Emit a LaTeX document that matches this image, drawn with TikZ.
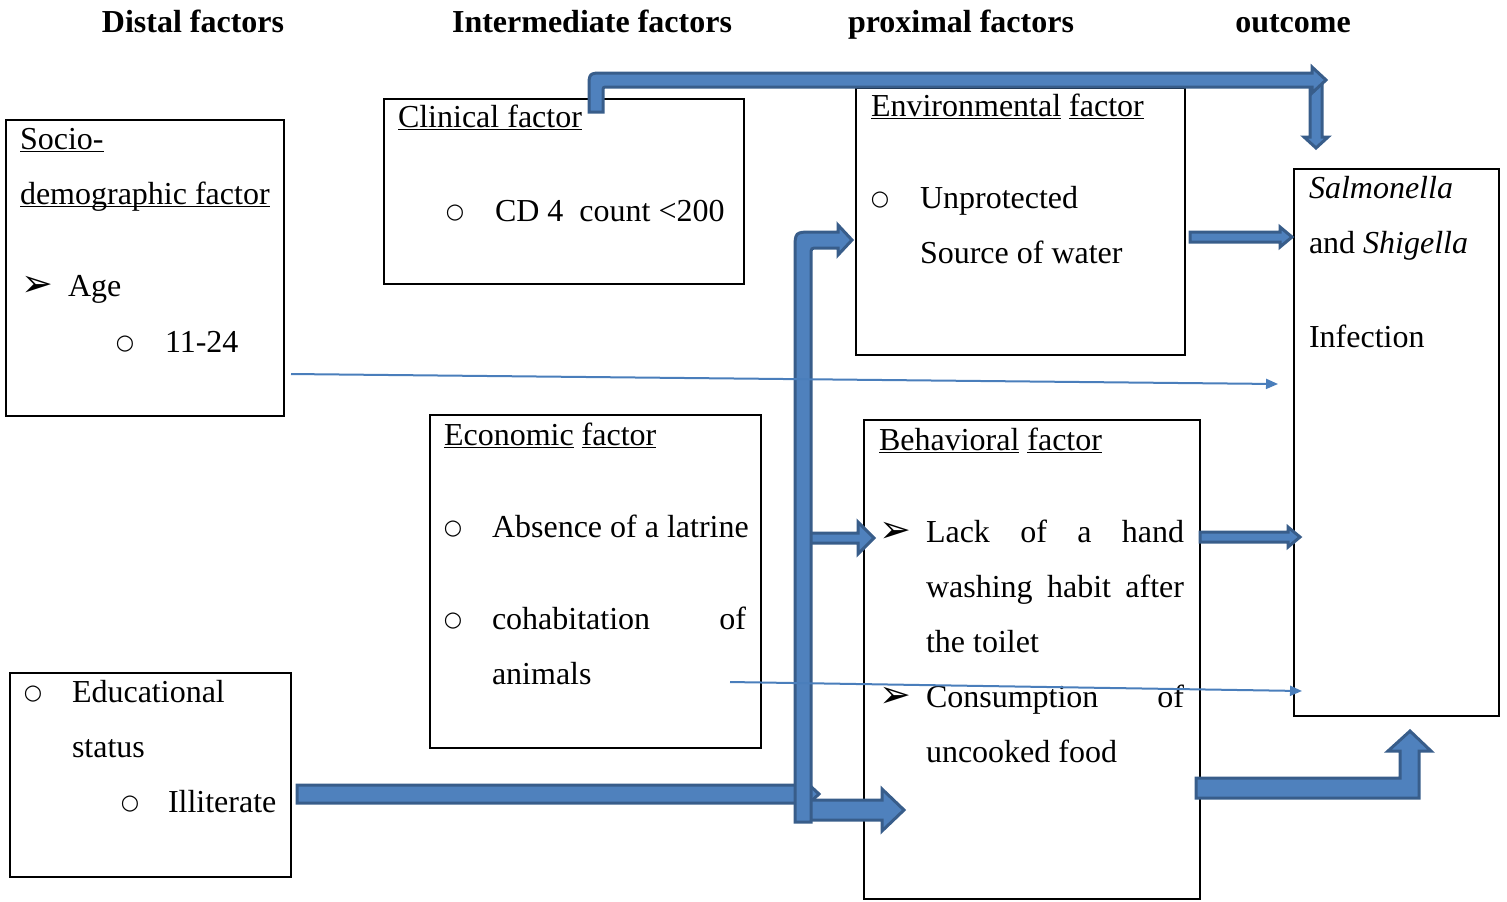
\documentclass[tikz,border=0pt]{standalone}
\usepackage{fontspec}
\setmainfont{Liberation Serif}
\newfontfamily\arrowheadfont{DejaVu Sans}
\usetikzlibrary{arrows.meta}

\definecolor{arrowfill}{HTML}{4F81BD}
\definecolor{arrowedge}{HTML}{385D8A}
\definecolor{linkblue}{HTML}{4A7EBB}

\newcommand{\ulbox}[1]{\underline{\smash{#1}}}
\newcommand{\ringbullet}{{\arrowheadfont\fontsize{10.5}{11}\selectfont ○}}
\newcommand{\tipbullet}{{\arrowheadfont\fontsize{19}{19}\selectfont ➢}}

\begin{document}
\begin{tikzpicture}[
  x=0.5pt, y=-0.5pt,
  every node/.style={font=\fontsize{16}{19}\selectfont, inner sep=0pt, outer sep=0pt},
  factorbox/.style={draw=black, line width=1pt, anchor=north west},
  txt/.style={anchor=base west},
  bullet/.style={anchor=base, yshift=1.2pt},
  header/.style={anchor=base, font=\fontsize{16}{19}\selectfont\bfseries},
  blockarrow/.style={fill=arrowfill, draw=arrowedge, line width=1.5pt, line join=miter},
  link/.style={-{Triangle[length=6pt, width=5pt]}, linkblue, line width=1pt}
]
\useasboundingbox (0,0) rectangle (1507,901);

% Column headings
\node[header] (h-distal) at (193,32) {Distal factors};
\node[header] (h-inter) at (592,32) {Intermediate factors};
\node[header] (h-prox) at (961,32) {proximal factors};
\node[header] (h-out) at (1293,32) {outcome};

% Factor boxes
\node[factorbox, minimum width=139pt, minimum height=148pt] (socio) at (6,120) {};
\node[factorbox, minimum width=180pt, minimum height=92.5pt] (clinical) at (384,99) {};
\node[factorbox, minimum width=164.5pt, minimum height=133.5pt] (environ) at (856,88) {};
\node[factorbox, minimum width=165.5pt, minimum height=166.5pt] (economic) at (430,415) {};
\node[factorbox, minimum width=168pt, minimum height=239.5pt] (behav) at (864,420) {};
\node[factorbox, minimum width=102.5pt, minimum height=273.5pt] (outcome) at (1294,169) {};
\node[factorbox, minimum width=140.5pt, minimum height=102pt] (educ) at (10,673) {};

% Socio-demographic
\node[txt] (socio-t1) at (20,149) {\ulbox{Socio-}};
\node[txt] (socio-t2) at (20,204) {\ulbox{demographic factor}};
\node[txt] (age-b) at (21,296) {\tipbullet};
\node[txt] (age) at (68,296) {Age};
\node[bullet] (range-b) at (125,352) {\ringbullet};
\node[txt] (range) at (165,352) {11-24};

% Clinical
\node[txt] (clin-t) at (398,127) {\ulbox{Clinical factor}};
\node[bullet] (cd4-b) at (455,221) {\ringbullet};
\node[txt] (cd4) at (495,221) {CD 4\ \ count <200};

% Environmental
\node[txt] (env-t) at (871,116) {\ulbox{Environmental} \ulbox{factor}};
\node[bullet] (water-b) at (880,208) {\ringbullet};
\node[txt] (water1) at (920,208) {Unprotected};
\node[txt] (water2) at (920,263) {Source of water};

% Economic
\node[txt] (eco-t) at (444,445) {\ulbox{Economic} \ulbox{factor}};
\node[bullet] (latrine-b) at (453,537) {\ringbullet};
\node[txt] (latrine) at (492,537) {Absence of a latrine};
\node[bullet] (animal-b) at (453,629) {\ringbullet};
\node[txt] (animal1) at (492,629) {\makebox[127pt][s]{cohabitation of}};
\node[txt] (animal2) at (492,684) {animals};

% Behavioral
\node[txt] (beh-t) at (879,450) {\ulbox{Behavioral} \ulbox{factor}};
\node[txt] (hand-b) at (879,542) {\tipbullet};
\node[txt] (hand1) at (926,542) {\makebox[129pt][s]{Lack of a hand}};
\node[txt] (hand2) at (926,597) {\makebox[129pt][s]{washing habit after}};
\node[txt] (hand3) at (926,652) {the toilet};
\node[txt] (food-b) at (879,707) {\tipbullet};
\node[txt] (food1) at (926,707) {\makebox[129pt][s]{Consumption of}};
\node[txt] (food2) at (926,762) {uncooked food};

% Outcome
\node[txt] (out1) at (1309,198) {\textit{Salmonella}};
\node[txt] (out2) at (1309,253) {and \textit{Shigella}};
\node[txt] (out3) at (1309,347) {Infection};

% Educational
\node[bullet] (edu-b) at (33,702) {\ringbullet};
\node[txt] (edu1) at (72,702) {Educational};
\node[txt] (edu2) at (72,757) {status};
\node[bullet] (illit-b) at (130,812) {\ringbullet};
\node[txt] (illit) at (168,812) {Illiterate};

% Block arrows
\draw[blockarrow] (297,785) -- (805,785) -- (805,781) -- (819,794) -- (805,807) -- (805,803) -- (297,803) -- cycle;
\draw[blockarrow] (805,800) -- (882,800) -- (882,789) -- (904,810) -- (882,831) -- (882,820) -- (805,820) -- cycle;
\draw[blockarrow] (805,533) -- (858,533) -- (858,522) -- (874,538) -- (858,554) -- (858,543) -- (805,543) -- cycle;
\draw[blockarrow] (795,822) -- (795,250) .. controls (795,232) .. (813,232) -- (838,232) -- (838,225) -- (852,240) -- (838,255) -- (838,248) -- (818,248) .. controls (811,248) .. (811,255) -- (811,822) -- cycle;
\draw[blockarrow] (1310,84) -- (1322,84) -- (1322,137) -- (1328,137) -- (1316,148) -- (1304,137) -- (1310,137) -- cycle;
\draw[blockarrow] (589,112) -- (589,88) .. controls (589,73) .. (604,73) -- (1312,73) -- (1312,67) -- (1326,80) -- (1312,93) -- (1312,87) -- (608,87) .. controls (603,87) .. (603,92) -- (603,112) -- cycle;
\draw[blockarrow] (1190,232) -- (1280,232) -- (1280,227) -- (1292,237) -- (1280,247) -- (1280,242) -- (1190,242) -- cycle;
\draw[blockarrow] (1200,532) -- (1288,532) -- (1288,527) -- (1300,537) -- (1288,547) -- (1288,542) -- (1200,542) -- cycle;
\draw[blockarrow] (1196,778) -- (1400,778) -- (1400,751) -- (1388,751) -- (1410,731) -- (1431,751) -- (1419,751) -- (1419,798) -- (1196,798) -- cycle;

% Thin links to the outcome
\coordinate (age-out) at (291,374);
\coordinate (age-in) at (1278,384);
\coordinate (animal-out) at (730,682);
\coordinate (animal-in) at (1302,691);
\draw[link] (age-out) -- (age-in);
\draw[link] (animal-out) -- (animal-in);

\end{tikzpicture}
\end{document}
